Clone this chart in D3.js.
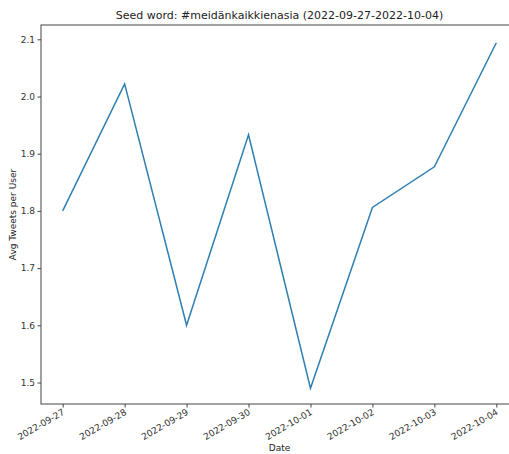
<!DOCTYPE html>
<html>
<head>
<meta charset="utf-8">
<script src="https://cdn.jsdelivr.net/npm/d3@7"></script>
<style>
  html, body { margin: 0; padding: 0; background: #fff; }
  svg { display: block; font-family: "DejaVu Sans", sans-serif; }
</style>
</head>
<body>
<svg id="chart" width="509" height="454"></svg>
<script>
// Daily average tweets per user for the seed word
const dates = ["2022-09-27", "2022-09-28", "2022-09-29", "2022-09-30",
               "2022-10-01", "2022-10-02", "2022-10-03", "2022-10-04"];
const avgTweets = [1.80, 2.022, 1.60, 1.933, 1.49, 1.806, 1.877, 2.094];
const yTicks = [1.5, 1.6, 1.7, 1.8, 1.9, 2.0, 2.1];

const titleText = "Seed word: #meidänkaikkienasia (2022-09-27-2022-10-04)";
const xLabel = "Date";
const yLabel = "Avg Tweets per User";

const svg = d3.select("#chart");
const parse = d3.timeParse("%Y-%m-%d");
const dayVals = dates.map(parse);

// Axes box (right edge runs past the visible canvas)
const boxL = 41, boxR = 518, boxT = 25, boxB = 404;

const span = dayVals[dayVals.length - 1] - dayVals[0];
const x = d3.scaleTime()
  .domain([new Date(+dayVals[0] - span * 0.05), new Date(+dayVals[dayVals.length - 1] + span * 0.05)])
  .range([boxL, boxR]);

const y = d3.scaleLinear()
  .domain([1.5 - 21.5 / 572, 1.5 + 357.5 / 572])
  .range([boxB, boxT]);

const fmt = d3.timeFormat("%Y-%m-%d");

// Line
const line = d3.line()
  .x((d, i) => x(dayVals[i]))
  .y(d => y(d));

svg.append("path")
  .datum(avgTweets)
  .attr("fill", "none")
  .attr("stroke", "#2f7fb2")
  .attr("stroke-width", 1.5)
  .attr("stroke-linejoin", "miter")
  .attr("d", line);

// Frame
svg.append("rect")
  .attr("x", boxL).attr("y", boxT)
  .attr("width", boxR - boxL).attr("height", boxB - boxT)
  .attr("fill", "none").attr("stroke", "#444").attr("stroke-width", 1);

// X axis
const xAxis = svg.append("g")
  .attr("transform", `translate(0,${boxB})`)
  .call(d3.axisBottom(x).tickValues(dayVals).tickFormat(fmt).tickSize(3.5).tickSizeOuter(0));
xAxis.select(".domain").remove();
xAxis.selectAll(".tick line").attr("stroke", "#444");
xAxis.selectAll(".tick text")
  .attr("fill", "#333")
  .style("font-size", "9px")
  .style("font-family", "DejaVu Sans, sans-serif")
  .attr("text-anchor", "end")
  .attr("dy", null)
  .attr("y", 0)
  .attr("transform", "translate(2,10) rotate(-30)");

// Y axis
const yAxis = svg.append("g")
  .attr("transform", `translate(${boxL},0)`)
  .call(d3.axisLeft(y).tickValues(yTicks).tickFormat(d3.format(".1f")).tickSize(3.5).tickSizeOuter(0));
yAxis.select(".domain").remove();
yAxis.selectAll(".tick line").attr("stroke", "#444");
yAxis.selectAll(".tick text")
  .attr("fill", "#333")
  .style("font-size", "9px")
  .style("font-family", "DejaVu Sans, sans-serif")
  .attr("x", -6);

// Title and axis labels
svg.append("text")
  .attr("x", (boxL + boxR) / 2).attr("y", 19)
  .attr("text-anchor", "middle")
  .attr("fill", "#222")
  .style("font-size", "11px")
  .text(titleText);

svg.append("text")
  .attr("x", (boxL + boxR) / 2).attr("y", 451)
  .attr("text-anchor", "middle")
  .attr("fill", "#222")
  .style("font-size", "9px")
  .text(xLabel);

svg.append("text")
  .attr("transform", `translate(16,${(boxT + boxB) / 2}) rotate(-90)`)
  .attr("text-anchor", "middle")
  .attr("fill", "#222")
  .style("font-size", "9px")
  .text(yLabel);
</script>
</body>
</html>
